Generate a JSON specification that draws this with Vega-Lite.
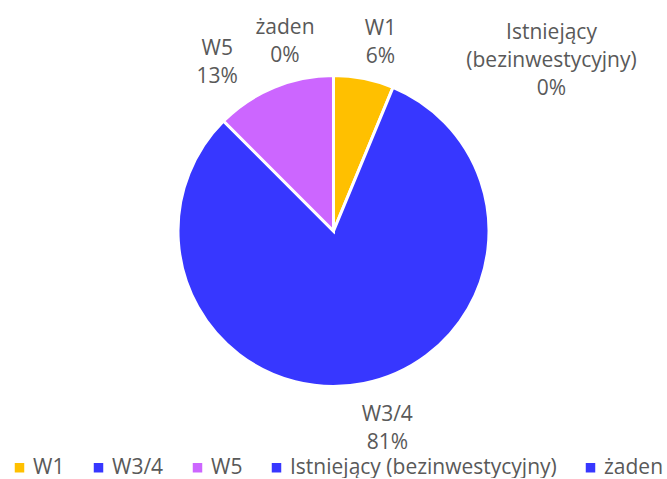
{
  "$schema": "https://vega.github.io/schema/vega-lite/v6.json",
  "width": 667,
  "height": 462,
  "padding": 0,
  "background": "white",
  "config": {"view": {"stroke": null}, "font": "Open Sans"},
  "data": {
    "values": [
      {"plan": "W1", "share": 0.0625, "rank": 1},
      {"plan": "W3/4", "share": 0.8125, "rank": 2},
      {"plan": "W5", "share": 0.125, "rank": 3},
      {"plan": "Istniejący (bezinwestycyjny)", "share": 0, "rank": 4},
      {"plan": "żaden", "share": 0, "rank": 5}
    ]
  },
  "transform": [
    {"calculate": "datum.plan + ' ' + format(datum.share, '.0%')", "as": "label"}
  ],
  "encoding": {
    "theta": {"field": "share", "type": "quantitative", "stack": true},
    "order": {"field": "rank", "type": "quantitative"}
  },
  "layer": [
    {
      "mark": {"type": "arc", "radius": 155.5, "stroke": "white", "strokeWidth": 3},
      "encoding": {
        "color": {
          "field": "plan",
          "type": "nominal",
          "sort": null,
          "scale": {
            "domain": ["W1", "W3/4", "W5", "Istniejący (bezinwestycyjny)", "żaden"],
            "range": ["#FFC000", "#3737FF", "#CC66FF", "#3737FF", "#3737FF"]
          },
          "legend": {
            "orient": "none",
            "direction": "horizontal",
            "legendX": 9,
            "legendY": 457,
            "title": null,
            "symbolType": "square",
            "symbolSize": 90,
            "symbolStrokeWidth": 0,
            "labelFont": "Open Sans",
            "labelFontSize": 21,
            "labelColor": "#595959",
            "labelOffset": 3,
            "columnPadding": 23,
            "labelLimit": 400
          }
        }
      }
    },
    {
      "mark": {"type": "text", "radius": 195, "dx": 9, "dy": -11, "fontSize": 21, "lineHeight": 28, "color": "#595959", "baseline": "middle", "align": "center", "lineBreak": " "},
      "encoding": {"text": {"condition": {"test": "datum.plan === 'W1'", "field": "label"}, "value": ""}}
    },
    {
      "mark": {"type": "text", "radius": 199, "dx": 15, "dy": -11, "fontSize": 21, "lineHeight": 28, "color": "#595959", "baseline": "middle", "align": "center", "lineBreak": " "},
      "encoding": {"text": {"condition": {"test": "datum.plan === 'W3/4'", "field": "label"}, "value": ""}}
    },
    {
      "mark": {"type": "text", "radius": 183.5, "dx": -46, "dy": -12, "fontSize": 21, "lineHeight": 28, "color": "#595959", "baseline": "middle", "align": "center", "lineBreak": " "},
      "encoding": {"text": {"condition": {"test": "datum.plan === 'W5'", "field": "label"}, "value": ""}}
    },
    {
      "mark": {"type": "text", "radius": 191, "dx": -48.5, "dy": -12, "fontSize": 21, "lineHeight": 28, "color": "#595959", "baseline": "middle", "align": "center", "lineBreak": " "},
      "encoding": {"text": {"condition": {"test": "datum.plan === 'żaden'", "field": "label"}, "value": ""}}
    },
    {
      "mark": {"type": "text", "radius": 172, "dx": 218, "dy": -26, "fontSize": 21, "lineHeight": 28, "color": "#595959", "baseline": "middle", "align": "center", "lineBreak": " "},
      "encoding": {"text": {"condition": {"test": "datum.plan === 'Istniejący (bezinwestycyjny)'", "field": "label"}, "value": ""}}
    }
  ]
}
